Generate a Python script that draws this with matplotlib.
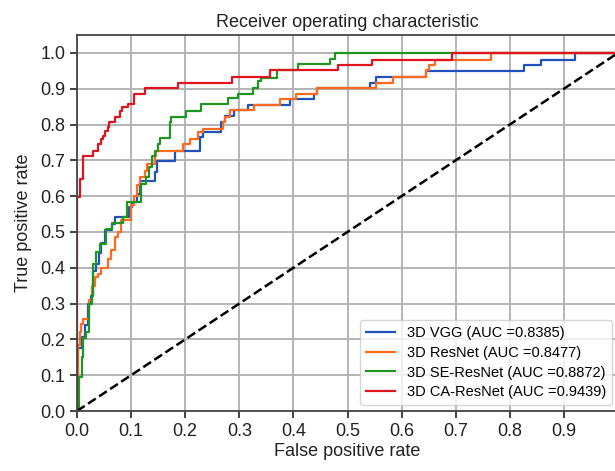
import numpy as np
import matplotlib
matplotlib.use("Agg")
from matplotlib import pyplot as plt

plt.rcParams["font.family"] = ["Liberation Sans", "DejaVu Sans"]

# ROC step points: (fpr where tpr jumps, new tpr level)
vgg_fpr = [0.0, 0.0, 0.002, 0.010, 0.014, 0.020, 0.025, 0.030, 0.035, 0.040, 0.045,
           0.052, 0.064, 0.070, 0.096, 0.101, 0.110, 0.116, 0.144, 0.147, 0.182,
           0.227, 0.232, 0.267, 0.273, 0.291, 0.316, 0.393, 0.439, 0.443, 0.541,
           0.553, 0.646, 0.827, 0.858, 0.920, 1.0]
vgg_tpr = [0.0, 0.070, 0.175, 0.207, 0.240, 0.300, 0.320, 0.390, 0.410, 0.440, 0.470,
           0.506, 0.523, 0.541, 0.569, 0.583, 0.606, 0.643, 0.667, 0.697, 0.727,
           0.764, 0.778, 0.806, 0.825, 0.840, 0.855, 0.871, 0.885, 0.902, 0.917,
           0.934, 0.950, 0.965, 0.981, 1.0, 1.0]

resnet_fpr = [0.0, 0.0, 0.001, 0.006, 0.008, 0.012, 0.022, 0.028, 0.033, 0.039, 0.045,
              0.057, 0.063, 0.070, 0.076, 0.082, 0.100, 0.105, 0.110, 0.116, 0.125,
              0.130, 0.144, 0.146, 0.196, 0.208, 0.224, 0.233, 0.270, 0.273, 0.282,
              0.328, 0.375, 0.405, 0.443, 0.553, 0.584, 0.646, 0.650, 0.661, 0.766, 1.0]
resnet_tpr = [0.0, 0.096, 0.184, 0.221, 0.242, 0.258, 0.309, 0.350, 0.374, 0.383, 0.400,
              0.425, 0.450, 0.486, 0.500, 0.532, 0.574, 0.600, 0.630, 0.653, 0.670,
              0.690, 0.713, 0.727, 0.746, 0.760, 0.778, 0.787, 0.806, 0.820, 0.840,
              0.855, 0.871, 0.885, 0.902, 0.917, 0.934, 0.952, 0.965, 0.979, 1.0, 1.0]

se_fpr = [0.0, 0.004, 0.009, 0.012, 0.017, 0.022, 0.027, 0.030, 0.035, 0.042, 0.054,
          0.065, 0.085, 0.092, 0.118, 0.128, 0.133, 0.138, 0.145, 0.150, 0.154,
          0.171, 0.174, 0.202, 0.229, 0.279, 0.298, 0.325, 0.335, 0.341, 0.369,
          0.409, 0.467, 0.476, 1.0]
se_tpr = [0.0, 0.096, 0.150, 0.203, 0.221, 0.300, 0.323, 0.411, 0.444, 0.467, 0.507,
          0.525, 0.541, 0.585, 0.634, 0.653, 0.681, 0.713, 0.727, 0.746, 0.761,
          0.806, 0.822, 0.838, 0.857, 0.874, 0.885, 0.903, 0.922, 0.931, 0.952,
          0.968, 0.982, 1.0, 1.0]

ca_fpr = [0.0, 0.0, 0.005, 0.011, 0.030, 0.039, 0.044, 0.048, 0.052, 0.057, 0.060,
          0.070, 0.079, 0.084, 0.094, 0.105, 0.125, 0.187, 0.287, 0.356, 0.482,
          0.546, 0.694, 1.0]
ca_tpr = [0.0, 0.597, 0.648, 0.713, 0.727, 0.746, 0.760, 0.769, 0.783, 0.792, 0.806,
          0.822, 0.838, 0.848, 0.857, 0.885, 0.902, 0.917, 0.933, 0.951, 0.965,
          0.979, 1.0, 1.0]

labels = ["3D VGG (AUC =0.8385)", "3D ResNet (AUC =0.8477)",
          "3D SE-ResNet (AUC =0.8872)", "3D CA-ResNet (AUC =0.9439)"]
colors = ["#1f52bd", "#ff6a1f", "#1f961f", "#e0141e"]

fig = plt.figure(figsize=(6.15, 4.71), dpi=100)
ax = fig.add_axes([77 / 615, 60 / 471, 541 / 615, 376 / 471])

curves = [(vgg_fpr, vgg_tpr), (resnet_fpr, resnet_tpr), (se_fpr, se_tpr), (ca_fpr, ca_tpr)]
for (fpr, tpr), lab, col in zip(curves, labels, colors):
    ax.step(fpr, tpr, where="post", color=col, lw=1.6, label=lab)

ax.plot([0, 1], [0, 1], "k--", lw=1.8)

ax.set_xlim(0, 1.0)
ax.set_ylim(0, 1.05)
ax.set_xticks(np.arange(0, 1.0, 0.1))
ax.set_yticks(np.arange(0, 1.05, 0.1))
ax.xaxis.set_major_formatter(matplotlib.ticker.FormatStrFormatter("%.1f"))
ax.yaxis.set_major_formatter(matplotlib.ticker.FormatStrFormatter("%.1f"))
ax.grid(True, color="#b4b4b4", lw=1.4)
ax.tick_params(labelsize=13, length=5, width=1.2, colors="#222222")
for s in ax.spines.values():
    s.set_color("#444444")
    s.set_linewidth(1.3)

ax.set_title("Receiver operating characteristic", fontsize=13, color="#222222")
ax.set_xlabel("False positive rate", fontsize=13, labelpad=2, color="#222222")
ax.set_ylabel("True positive rate", fontsize=13, labelpad=6, color="#222222")
ax.legend(loc="lower right", fontsize=10.5, labelspacing=0.4, borderaxespad=0.4)

fig.savefig("out.png", dpi=100)
